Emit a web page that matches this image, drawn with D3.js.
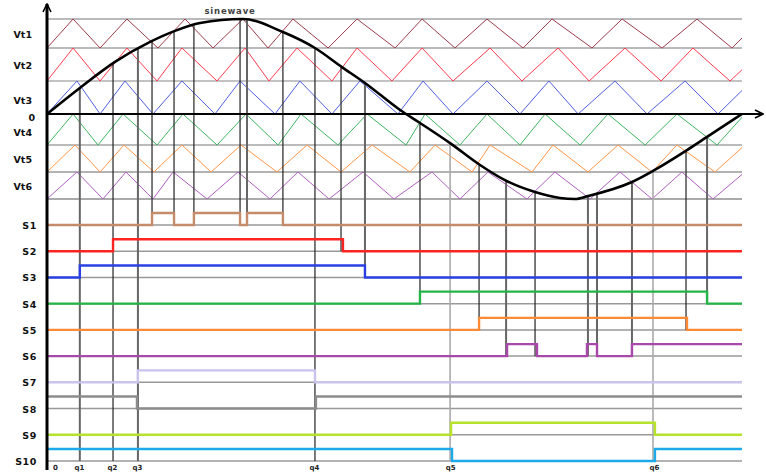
<!DOCTYPE html>
<html>
<head>
<meta charset="utf-8">
<script src="https://cdn.jsdelivr.net/npm/d3@7"></script>
<style>
  body { margin: 0; background: #fff; }
  svg { display: block; }
  .lbl { font-family: "DejaVu Sans", sans-serif; font-weight: bold; font-size: 9.5px; fill: #111; }
</style>
</head>
<body>
<div id="chart"></div>
<script>
// carrier triangle vertices (degrees), alternating low / high, starting low
const vt1 = [0, 13.5, 27.5, 41.4, 57.5, 71.5, 86, 101.5, 114.5, 127.4, 145.6, 160.6, 180.3, 194.3, 211.3, 227.9, 246.6, 261.6, 282.3, 297.9, 318.6, 336.7, 354.8, 370]
const vt2 = [0, 13.5, 27.5, 41.4, 57, 69.9, 88.1, 102.6, 115, 129.5, 147.6, 160.6, 178.7, 194.3, 210.3, 229.5, 246, 264.7, 280.8, 299.4, 318.1, 334.6, 353.8, 372]
const vt3 = [0, 15.5, 27.5, 40.4, 54.9, 69.9, 87, 100, 118.1, 131, 147.6, 162.1, 181.8, 194.8, 210.3, 227.9, 245, 260, 275.1, 294.2, 310.8, 330.5, 347.6, 365]
const vt4 = [0, 13.5, 26.4, 39.4, 57, 70.4, 88.1, 103.1, 119.7, 131.6, 150.7, 165.8, 186, 195.8, 213.9, 227.9, 245, 258, 276.1, 290.6, 309.8, 326.3, 347.1, 361.5]
const vt5 = [0, 14.5, 27.5, 39.9, 55.4, 69.9, 85, 100.5, 119.1, 134.7, 152.3, 168.4, 188, 201, 220.2, 229.5, 251.2, 262.1, 280.2, 295.8, 313.4, 326.3, 346, 361.5]
const vt6 = [0, 15.5, 29, 40.9, 54.9, 65.3, 82.9, 98.9, 115.5, 130, 146.1, 163.7, 179.7, 199.4, 213.9, 228.4, 248.6, 263.1, 281.3, 296.8, 313.4, 328.9, 345, 361.5]

const carrierNames = ['Vt1', 'Vt2', 'Vt3', 'Vt4', 'Vt5', 'Vt6']
const carrierLows = [2, 1, 0, -1, -2, -3]
const carrierColors = ['#9e3c4c', '#ff3b4e', '#5060e2', '#3fb460', '#ff9648', '#b060c0']

// reference sinewave
const sineT = [0, 17, 35.2, 53.4, 66.3, 79.3, 101.5, 122.2, 138.8, 152.8, 164.7, 182.9, 193.2, 208.8, 224.3, 237.2, 252.8, 265.7, 273.5, 280.2, 303, 313.9, 331.5, 341.9, 360]
const sineV = [0, 0.79, 1.58, 2.21, 2.59, 2.86, 3, 2.55, 2, 1.42, 0.94, 0.12, -0.29, -0.94, -1.74, -2.3, -2.74, -2.96, -3, -2.89, -2.37, -1.96, -1.19, -0.74, 0]

// comparison instants: where each one drops to, and its tone
const cutT = [17, 34.2, 47.1, 54.4, 65.8, 76.1, 100, 103.6, 122.2, 138.8, 152.3, 164.7, 193.2, 208.8, 223.8, 237.8, 252.8, 280.2, 284.9, 303, 313.9, 331, 341.9]
const cutTo = ['axis', 'axis', 'axis', 'S1', 'S1', 'S1', 'S1', 'S1', 'S1', 'axis', 'S2', 'S3', 'S4', 'axis', 'S5', 'S6', 'S6', 'S6', 'S6', 'S6', 'axis', 'S5', 'S4']
const cutTone = ['m', 'd', 'm', 'd', 'd', 'd', 'd', 'm', 'd', 'd', 'd', 'm', 'd', 'l', 'd', 'm', 'd', 'm', 'm', 'm', 'l', 'd', 'm']

// switching signals: initial state and toggle instants
const signalNames = ['S1', 'S2', 'S3', 'S4', 'S5', 'S6', 'S7', 'S8', 'S9', 'S10']
const signalColors = ['#c48c6a', '#ff2424', '#2b40e2', '#22b446', '#ff8a36', '#a848aa', '#c9c3ee', '#8c8c8c', '#b6e22c', '#1daaea']
const signalStart = [0, 0, 0, 0, 0, 0, 0, 1, 0, 1]
const signalEdges = [
    [54.4, 65.8, 76.1, 100, 103.6, 122.2],
    [34.2, 153.3],
    [17, 164.7],
    [193.2, 341.9],
    [223.8, 331.5],
    [238.3, 253.8, 279.7, 284.9, 303],
    [47.1, 138.8],
    [46.6, 139.3],
    [209.3, 314.9],
    [209.8, 314.9],
]

const qLabels = ['0', 'q1', 'q2', 'q3', 'q4', 'q5', 'q6']
const qTimes = [0, 17, 34.2, 47.1, 138.8, 209.3, 314.9]

const W = 766, H = 473
const svg = d3.select('#chart').append('svg').attr('width', W).attr('height', H)

const x = d3.scaleLinear().domain([0, 360]).range([47, 742])
const y = d3.scaleLinear().domain([-3, -2, -1, 0, 1, 2, 3]).range([199, 172, 145, 114, 81, 48, 19])
const sy = d3.scalePoint().domain(signalNames).range([225, 461])
const pulse = 12

function sineAt(t) {
    const i = Math.max(1, Math.min(sineT.length - 1, d3.bisectLeft(sineT, t)))
    const k = (t - sineT[i - 1]) / (sineT[i] - sineT[i - 1])
    return sineV[i - 1] + k * (sineV[i] - sineV[i - 1])
}

svg.append('defs').append('clipPath').attr('id', 'clip')
    .append('rect').attr('x', x(0)).attr('y', 0).attr('width', x(360) - x(0)).attr('height', H)

// grid levels of the carrier bands
const gridLevels = [3, 2, 1, -1, -2, -3]
const gridStroke = ['#777', '#777', '#888', '#bbb', '#666', '#aaa']
const gridWidth = [1.2, 1.2, 1.2, 2, 1, 2]
svg.append('g').selectAll('line').data(gridLevels).join('line')
    .attr('x1', x(0)).attr('x2', x(360))
    .attr('y1', d => y(d)).attr('y2', d => y(d))
    .attr('stroke', (_, i) => gridStroke[i]).attr('stroke-width', (_, i) => gridWidth[i])

// carriers
const carriers = [vt1, vt2, vt3, vt4, vt5, vt6]
const tri = d3.line().x(d => x(d[0])).y(d => y(d[1]))
svg.append('g').attr('clip-path', 'url(#clip)')
    .selectAll('path').data(carriers).join('path')
    .attr('d', (c, k) => tri(c.map((t, i) => [t, carrierLows[k] + (i % 2)])))
    .attr('fill', 'none')
    .attr('stroke', (_, k) => carrierColors[k])
    .attr('stroke-width', 1)

// gray signal baselines
svg.append('g').selectAll('line').data(signalNames).join('line')
    .attr('x1', x(0)).attr('x2', x(360))
    .attr('y1', d => sy(d)).attr('y2', d => sy(d))
    .attr('stroke', '#999').attr('stroke-width', 1.5)

// vertical comparison lines
const toneColor = { d: '#222', m: '#666', l: '#aaa' }
const toneWidth = { d: 1.2, m: 2, l: 1.6 }
svg.append('g').selectAll('line').data(cutT).join('line')
    .attr('x1', d => x(d)).attr('x2', d => x(d))
    .attr('y1', d => y(sineAt(d)))
    .attr('y2', (d, i) => cutTo[i] === 'axis' ? sy('S10') : sy(cutTo[i]))
    .attr('stroke', (_, i) => toneColor[cutTone[i]])
    .attr('stroke-width', (_, i) => toneWidth[cutTone[i]])

// switching signals
svg.append('g').selectAll('path').data(signalNames).join('path')
    .attr('d', (name, k) => {
        let s = signalStart[k]
        const pts = [[0, s]]
        signalEdges[k].forEach(t => { pts.push([t, s]); s = 1 - s; pts.push([t, s]) })
        pts.push([360, s])
        return d3.line().x(p => x(p[0])).y(p => sy(name) - p[1] * pulse)(pts)
    })
    .attr('fill', 'none')
    .attr('stroke', (_, k) => signalColors[k])
    .attr('stroke-width', 2.4)

// sinewave
svg.append('path')
    .datum(sineT.map((t, i) => [t, sineV[i]]))
    .attr('d', d3.line().x(d => x(d[0])).y(d => y(d[1])).curve(d3.curveMonotoneX))
    .attr('fill', 'none').attr('stroke', '#000').attr('stroke-width', 2.6)

svg.append('text').attr('x', 230).attr('y', 14).attr('text-anchor', 'middle')
    .style('font', 'bold 8.5px "DejaVu Sans", sans-serif').style('letter-spacing', '0.8px')
    .attr('fill', '#444').text('sinewave')

// axes with arrows
const defs = svg.select('defs')
defs.append('marker').attr('id', 'arrow').attr('viewBox', '0 0 10 10')
    .attr('refX', 9).attr('refY', 5).attr('markerWidth', 10).attr('markerHeight', 10)
    .attr('markerUnits', 'userSpaceOnUse').attr('orient', 'auto')
    .append('path').attr('d', 'M1,1 L9,5 L1,9').attr('fill', 'none').attr('stroke', '#000').attr('stroke-width', 1.6)

svg.append('line').attr('x1', x(0)).attr('x2', 763).attr('y1', y(0)).attr('y2', y(0))
    .attr('stroke', '#000').attr('stroke-width', 2).attr('marker-end', 'url(#arrow)')
svg.append('line').attr('x1', x(0)).attr('x2', x(0)).attr('y1', 470).attr('y2', 4)
    .attr('stroke', '#000').attr('stroke-width', 3).attr('marker-end', 'url(#arrow)')

// left labels
svg.append('g').selectAll('text').data(carrierNames).join('text')
    .attr('class', 'lbl').attr('x', 32).attr('text-anchor', 'end')
    .attr('y', (_, k) => (y(carrierLows[k]) + y(carrierLows[k] + 1)) / 2 + (k === 2 || k === 3 ? 6 : 4))
    .text(d => d)
svg.append('text').attr('class', 'lbl').attr('x', 35).attr('y', y(0) + 7).attr('text-anchor', 'end').text('0')
svg.append('g').selectAll('text').data(signalNames).join('text')
    .attr('class', 'lbl').attr('x', 37).attr('text-anchor', 'end')
    .attr('y', d => sy(d) + 4)
    .style('letter-spacing', '0.6px')
    .text(d => d)

// bottom q labels
const qAxis = d3.axisBottom(x).tickValues(qTimes).tickSize(0).tickFormat((_, i) => qLabels[i])
const ga = svg.append('g').attr('transform', 'translate(0,462)').call(qAxis)
ga.select('.domain').remove()
ga.selectAll('text').attr('font-family', '"DejaVu Sans", sans-serif').attr('font-weight', 'bold')
    .attr('font-size', 7).attr('fill', '#222').attr('dy', '0.75em')
    .attr('dx', (_, i) => i === 0 ? 8 : -1)
</script>
</body>
</html>
